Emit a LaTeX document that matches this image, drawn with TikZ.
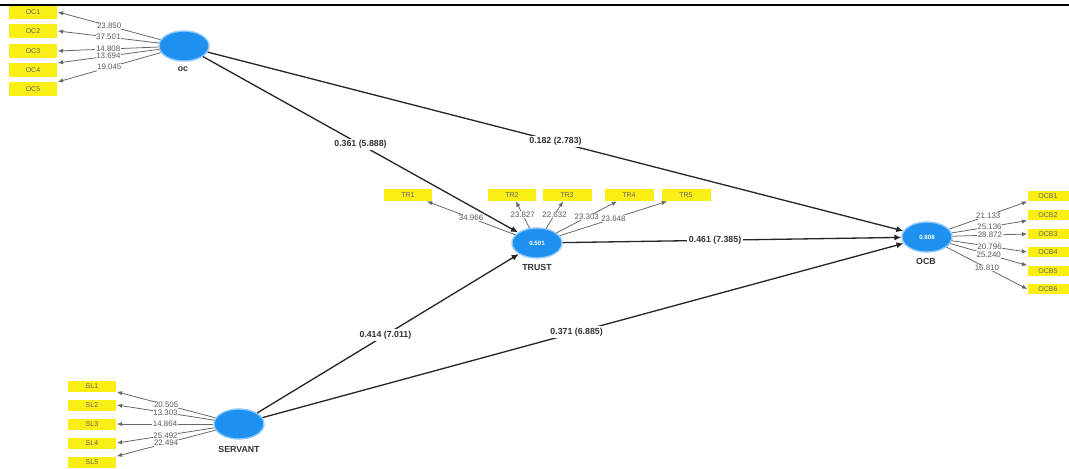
\documentclass[tikz,border=0pt]{standalone}
\usepackage{fontspec}
\setmainfont{Liberation Sans}
\definecolor{lvblue}{RGB}{30,144,240}
\definecolor{lvring}{RGB}{140,200,250}
\definecolor{indyellow}{RGB}{250,238,20}
\usetikzlibrary{shapes.geometric,arrows.meta,calc}

\begin{document}
\begin{tikzpicture}[x=0.02cm, y=-0.02cm,
    latente/.style={ellipse, fill=lvblue, draw=lvring, line width=0.8pt,
        minimum width=1cm, minimum height=0.6cm, inner sep=0pt,
        text=white, font=\fontsize{3.5}{4}\selectfont\bfseries},
    indicador/.style={fill=indyellow, minimum width=0.98cm, minimum height=0.27cm,
        inner sep=0pt, text=black!60, font=\fontsize{4}{5}\selectfont},
    carga/.style={draw=black!60, line width=0.45pt, -{Latex[length=3pt,width=2.5pt]}},
    camino/.style={draw=black!85, line width=0.75pt, -{Latex[length=4pt,width=3.5pt]}},
    peso/.style={fill=white, inner sep=0.3pt, text=black!65, font=\fontsize{4.5}{5}\selectfont},
    coef/.style={fill=white, inner sep=1pt, text=black!80, font=\fontsize{5}{6}\selectfont\bfseries},
    nombre/.style={text=black!80, font=\fontsize{5}{6}\selectfont\bfseries}]

    \useasboundingbox (0,0) rectangle (1069,468);

    % Variables latentes
    \node[latente] (oc) at (184,46) {};
    \node[latente] (trust) at (537,243) {0.501};
    \node[latente] (ocb) at (927,237) {0.808};
    \node[latente] (servant) at (239,424) {};

    \node[nombre] (ocname) at (183,69) {oc};
    \node[nombre] (trustname) at (537,267) {TRUST};
    \node[nombre] (ocbname) at (926,261) {OCB};
    \node[nombre] (servantname) at (239,449) {SERVANT};

    % Indicadores de oc
    \foreach \i/\y/\v/\a in {1/12/23.850/east, 2/31/37.501/east, 3/51/14.808/east,
                              4/70/13.694/north east, 5/89/19.045/north east} {
        \node[indicador] (OC\i) at (33,\y) {OC\i};
        \draw[carga] (oc) -- (OC\i.\a) node[peso, pos=0.5] {\v};
    }

    % Indicadores de TRUST
    \foreach \i/\x/\dx/\v in {1/408/19/34.966, 2/512/4/23.827, 3/567/-4/22.632,
                              4/629/-12/23.303, 5/686/-19/23.648} {
        \node[indicador, minimum height=0.24cm] (TR\i) at (\x,195) {TR\i};
        \draw[carga] (trust) -- ($(TR\i.south)+(\dx,0)$) node[peso, pos=0.5] {\v};
    }

    % Indicadores de OCB
    \foreach \i/\y/\v/\a in {1/196/21.133/south west, 2/215/25.136/south west, 3/234/28.872/west,
                              4/252/20.796/west, 5/271/25.240/north west, 6/289/16.810/west} {
        \node[indicador, minimum width=0.82cm, minimum height=0.21cm] (OCB\i) at (1048,\y) {OCB\i};
        \draw[carga] (ocb) -- (OCB\i.\a) node[peso, pos=0.5] {\v};
    }

    % Indicadores de SERVANT
    \foreach \i/\y/\v/\a in {1/386/20.505/south east, 2/405/13.303/east, 3/424/14.864/east,
                              4/443/25.492/east, 5/462/22.494/north east} {
        \node[indicador, minimum height=0.22cm] (SL\i) at (92,\y) {SL\i};
        \draw[carga] (servant) -- (SL\i.\a) node[peso, pos=0.5] {\v};
    }

    % Coeficientes de camino
    \draw[camino] (oc) -- (trust) node[coef, pos=0.5] {0.361 (5.888)};
    \draw[camino] (oc) -- (ocb) node[coef, pos=0.5] {0.182 (2.783)};
    \draw[camino] (trust) -- (ocb) node[coef, pos=0.45] {0.461 (7.385)};
    \draw[camino] (servant) -- (trust) node[coef, pos=0.49] {0.414 (7.011)};
    \draw[camino] (servant) -- (ocb) node[coef, pos=0.49] {0.371 (6.885)};

    % Linea superior
    \draw[line width=1.2pt] (0,5) -- (1069,5);
\end{tikzpicture}
\end{document}
